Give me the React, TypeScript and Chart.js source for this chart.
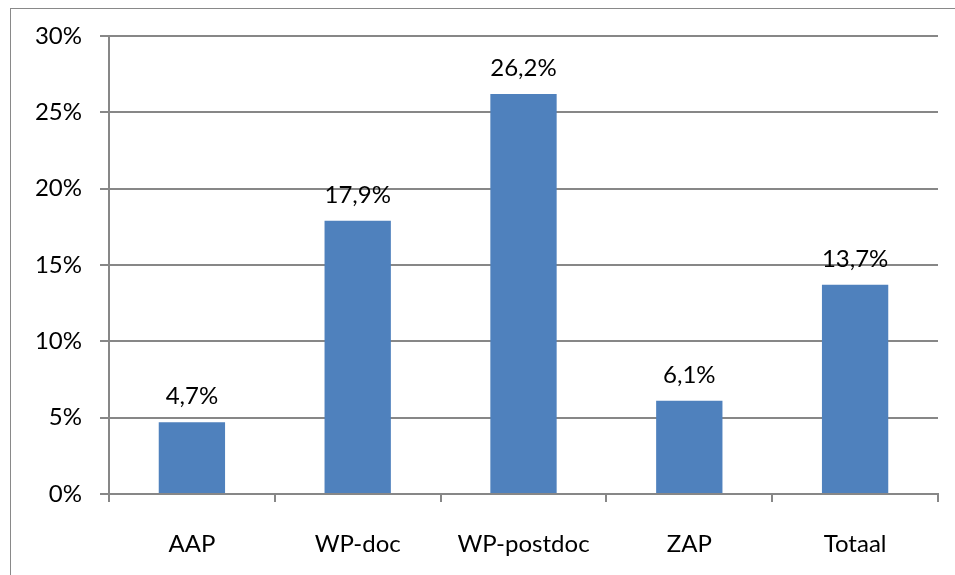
import React, { useEffect, useRef } from "react";
import { Chart, registerables } from "chart.js";

Chart.register(...registerables);

const categories = ["AAP", "WP-doc", "WP-postdoc", "ZAP", "Totaal"];
const values = [4.7, 17.9, 26.2, 6.1, 13.7];
const valueLabels = ["4,7%", "17,9%", "26,2%", "6,1%", "13,7%"];
const yTicks = [0, 5, 10, 15, 20, 25, 30];

const FONT = "Lato, 'Open Sans', sans-serif";
const FONT_SIZE = 24;
const GRID = "#878787";

const labelPlugin = {
  id: "barLabels",
  afterDatasetsDraw(chart: any) {
    const ctx = chart.ctx;
    const meta = chart.getDatasetMeta(0);
    ctx.save();
    ctx.font = `${FONT_SIZE}px ${FONT}`;
    ctx.fillStyle = "#000";
    ctx.textAlign = "center";
    ctx.textBaseline = "alphabetic";
    meta.data.forEach((bar: any, i: number) => {
      ctx.fillText(valueLabels[i], bar.x, bar.y - 18);
    });
    ctx.restore();
  },
};

export default function App() {
  const ref = useRef<HTMLCanvasElement>(null);
  useEffect(() => {
    if (!ref.current) return;
    const chart = new Chart(ref.current, {
      type: "bar",
      data: {
        labels: categories,
        datasets: [
          {
            data: values,
            backgroundColor: "#4F81BD",
            barPercentage: 0.4,
            categoryPercentage: 1,
          },
        ],
      },
      options: {
        animation: false,
        responsive: false,
        maintainAspectRatio: false,
        layout: { padding: { top: 27, right: 17, left: 0, bottom: 0 } },
        plugins: { legend: { display: false }, tooltip: { enabled: false } },
        scales: {
          x: {
            offset: true,
            grid: {
              offset: true,
              drawOnChartArea: false,
              drawTicks: true,
              tickLength: 8,
              color: GRID,
              lineWidth: 2,
            },
            border: { color: GRID, width: 2 },
            ticks: {
              color: "#000",
              font: { family: FONT, size: FONT_SIZE },
              padding: 28,
            },
            afterFit(scale: any) {
              scale.height = 81;
              scale.paddingLeft = 0;
              scale.paddingRight = 0;
            },
          },
          y: {
            min: 0,
            max: 30,
            afterBuildTicks(scale: any) {
              scale.ticks = yTicks.map((v) => ({ value: v }));
            },
            grid: {
              color: GRID,
              lineWidth: 2,
              drawTicks: true,
              tickLength: 9,
            },
            border: { color: GRID, width: 2 },
            ticks: {
              color: "#000",
              font: { family: FONT, size: FONT_SIZE },
              padding: 18,
              callback: (v: any) => `${v}%`,
            },
            afterFit(scale: any) {
              scale.width = 98;
              scale.paddingTop = 0;
              scale.paddingBottom = 0;
            },
          },
        },
      },
      plugins: [labelPlugin],
    });
    return () => chart.destroy();
  }, []);

  return (
    <div
      style={{
        position: "fixed",
        left: 0,
        top: 0,
        width: 955,
        height: 575,
        overflow: "hidden",
        background: "#fff",
      }}
    >
      <div
        style={{
          position: "absolute",
          left: 10,
          top: 8,
          width: 960,
          height: 580,
          borderTop: "1px solid #898989",
          borderLeft: "1px solid #898989",
        }}
      >
        <canvas ref={ref} width={944} height={566} style={{ display: "block" }} />
      </div>
    </div>
  );
}
